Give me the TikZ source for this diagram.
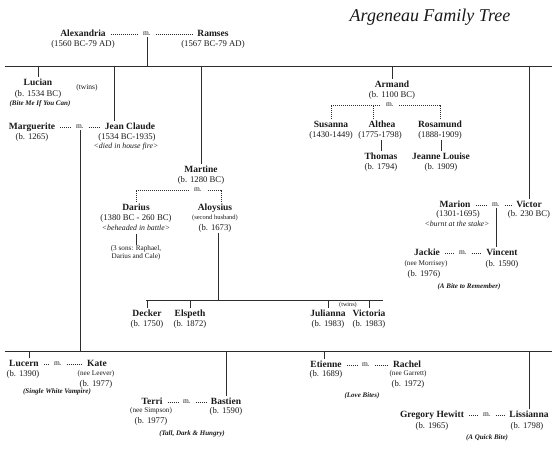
\documentclass[tikz,border=0pt]{standalone}
\usepackage{fontspec}
\setmainfont{Liberation Serif}
\usepackage{tikz}
\usetikzlibrary{positioning, calc}
\definecolor{tinta}{RGB}{25,25,25}
\definecolor{trazo}{RGB}{45,45,45}
\tikzset{
  person/.style={font=\bfseries\fontsize{9.5}{11}\selectfont, text=tinta, inner xsep=1.5pt, inner ysep=1.5pt, text height=6.5pt, text depth=2pt},
  dates/.style={font=\fontsize{8.7}{10}\selectfont, text=tinta, inner sep=0.5pt},
  fate/.style={font=\itshape\fontsize{7.8}{9}\selectfont, text=tinta, inner sep=0.5pt},
  aside/.style={font=\fontsize{6.5}{7.8}\selectfont, text=tinta, inner sep=0.5pt, align=center},
  nee/.style={font=\fontsize{7.2}{8.5}\selectfont, text=tinta, inner sep=0.5pt},
  book/.style={font=\bfseries\itshape\fontsize{7}{8}\selectfont, text=tinta, inner sep=0.5pt},
  wed/.style={font=\fontsize{7.5}{9}\selectfont, text=tinta, inner xsep=1pt, inner ysep=1pt},
  dots/.style={draw=trazo, line width=0.8pt, dash pattern=on 0.9pt off 1.1pt},
  marr/.style={dots, shorten >=3.5pt, shorten <=3.5pt},
  bracket/.style={dots, shorten >=4pt},
  line/.style={draw=trazo, line width=1pt},
}

\begin{document}
\begin{tikzpicture}[x=1pt, y=-1pt]
  \useasboundingbox (0,0) rectangle (560,466);

  % Title
  \node[font=\itshape\fontsize{18}{20}\selectfont, text=tinta] (title) at (430,17) {Argeneau Family Tree};

  % First couple
  \node[person] (alex) at (83,34) {Alexandria};
  \node[dates] (alexd) at (83,44) {(1560 BC-79 AD)};
  \node[wed] (m1) at (147,34) {m.};
  \node[person] (ramses) at (213,34) {Ramses};
  \node[dates] (ramsesd) at (213,44) {(1567 BC-79 AD)};

  % Generation lines
  \coordinate (g1l) at (5,66);   \coordinate (g1r) at (552,66);
  \coordinate (g2l) at (146,300); \coordinate (g2r) at (383,300);
  \coordinate (g3l) at (5,351);  \coordinate (g3r) at (552,351);
  \draw[line] (g1l) -- (g1r);
  \draw[line] (g2l) -- (g2r);
  \draw[line] (g3l) -- (g3r);
  \draw[line] (m1) -- (m1 |- g1l);

  % Lucian
  \node[person] (lucian) at (38,83) {Lucian};
  \node[dates] (luciand) at (38,94) {(b. 1534 BC)};
  \node[book] (lucianb) at (40,104) {(Bite Me If You Can)};
  \node[aside, font=\fontsize{7.5}{9}\selectfont] (twins1) at (87,88) {(twins)};

  % Marguerite and Jean Claude
  \node[person] (marg) at (32,127) {Marguerite};
  \node[dates] (margd) at (32,137) {(b. 1265)};
  \node[wed] (m2) at (80,127) {m.};
  \node[person] (jean) at (130,127) {Jean Claude};
  \node[dates] (jeand) at (127,137) {(1534 BC-1935)};
  \node[fate] (jeann) at (126,147) {<died in house fire>};

  % Martine, Darius and Aloysius
  \node[person] (martine) at (201,170) {Martine};
  \node[dates] (martined) at (201,180) {(b. 1280 BC)};
  \node[wed] (m3) at (198,190) {m.};
  \node[person] (darius) at (136,208) {Darius};
  \node[dates] (dariusd) at (136,218) {(1380 BC - 260 BC)};
  \node[fate] (dariusn) at (136,228) {<beheaded in battle>};
  \node[aside, font=\fontsize{7.2}{8.3}\selectfont] (sons) at (136,253) {(3 sons: Raphael,\\Darius and Cale)};
  \node[person] (aloy) at (215,208) {Aloysius};
  \node[aside] (aloyd1) at (215,218) {(second husband)};
  \node[dates] (aloyd2) at (215,228) {(b. 1673)};

  % Martine's children
  \node[person] (decker) at (147,314) {Decker};
  \node[dates] (deckerd) at (147,324) {(b. 1750)};
  \node[person] (elspeth) at (190,314) {Elspeth};
  \node[dates] (elspethd) at (190,324) {(b. 1872)};
  \node[person] (julianna) at (328,314) {Julianna};
  \node[dates] (juliannad) at (328,324) {(b. 1983)};
  \node[person] (victoria) at (369,314) {Victoria};
  \node[dates] (victoriad) at (369,324) {(b. 1983)};
  \node[aside, font=\fontsize{6.2}{7}\selectfont] (twins2) at (348,305) {(twins)};

  % Armand and his wives
  \node[person] (armand) at (392,85) {Armand};
  \node[dates] (armandd) at (392,95) {(b. 1100 BC)};
  \node[wed] (m4) at (390,105) {m.};
  \node[person] (susanna) at (331,125) {Susanna};
  \node[dates] (susannad) at (331,135) {(1430-1449)};
  \node[person] (althea) at (382,125) {Althea};
  \node[dates] (althead) at (380,135) {(1775-1798)};
  \node[person] (rosamund) at (440,125) {Rosamund};
  \node[dates] (rosamundd) at (440,135) {(1888-1909)};
  \node[person] (thomas) at (381,157) {Thomas};
  \node[dates] (thomasd) at (381,167) {(b. 1794)};
  \node[person] (jeanne) at (441,157) {Jeanne Louise};
  \node[dates] (jeanned) at (441,167) {(b. 1909)};

  % Victor and Marion
  \node[person] (marion) at (455,205) {Marion};
  \node[dates] (mariond) at (458,214) {(1301-1695)};
  \node[fate] (marionn) at (457,224) {<burnt at the stake>};
  \node[wed] (m5) at (496,205) {m.};
  \node[person] (victor) at (529,205) {Victor};
  \node[dates] (victord) at (529,214) {(b. 230 BC)};

  % Vincent and Jackie
  \node[person] (jackie) at (427,253) {Jackie};
  \node[nee] (jackien) at (426,264) {(nee Morrisey)};
  \node[dates] (jackied) at (424,274) {(b. 1976)};
  \node[wed] (m6) at (463,253) {m.};
  \node[person] (vincent) at (502,253) {Vincent};
  \node[dates] (vincentd) at (502,264) {(b. 1590)};
  \node[book] (vincentb) at (469,287) {(A Bite to Remember)};

  % Youngest generation
  \node[person] (lucern) at (24,364) {Lucern};
  \node[dates] (lucernd) at (23,374) {(b. 1390)};
  \node[wed] (m7) at (58,364) {m.};
  \node[person] (kate) at (97,364) {Kate};
  \node[nee] (katen) at (96,374) {(nee Leever)};
  \node[dates] (kated) at (96,384) {(b. 1977)};
  \node[book] (lucernb) at (57,392) {(Single White Vampire)};

  \node[person] (terri) at (152,402) {Terri};
  \node[nee] (terrin) at (151,411) {(nee Simpson)};
  \node[dates] (terrid) at (151,421) {(b. 1977)};
  \node[wed] (m8) at (187,402) {m.};
  \node[person] (bastien) at (226,402) {Bastien};
  \node[dates] (bastiend) at (226,411) {(b. 1590)};
  \node[book] (bastienb) at (192,434) {(Tall, Dark \& Hungry)};

  \node[person] (etienne) at (326,365) {Etienne};
  \node[dates] (etienned) at (326,374) {(b. 1689)};
  \node[wed] (m9) at (366,365) {m.};
  \node[person] (rachel) at (407,365) {Rachel};
  \node[nee] (racheln) at (408,374) {(nee Garrett)};
  \node[dates] (racheld) at (408,384) {(b. 1972)};
  \node[book] (etienneb) at (362,396) {(Love Bites)};

  \node[person] (gregory) at (432,415) {Gregory Hewitt};
  \node[dates] (gregoryd) at (432,426) {(b. 1965)};
  \node[wed] (m10) at (487,415) {m.};
  \node[person] (liss) at (529,415) {Lissianna};
  \node[dates] (lissd) at (527,426) {(b. 1798)};
  \node[book] (lissb) at (487,438) {(A Quick Bite)};

  % Marriages
  \foreach \a/\m/\b in {alex/m1/ramses, marg/m2/jean, marion/m5/victor, jackie/m6/vincent,
                        lucern/m7/kate, terri/m8/bastien, etienne/m9/rachel, gregory/m10/liss}{
    \draw[marr] (\a) -- (\m);
    \draw[marr] (\m) -- (\b);
  }
  \draw[bracket] (susanna) |- (m4);
  \draw[bracket] (rosamund) |- (m4);
  \draw[dots] ([xshift=-9pt]althea.north) -- ([xshift=-9pt]althea.north |- m4);
  \draw[bracket] (darius) |- (m3);
  \draw[bracket] ([xshift=6pt]aloy.north) |- (m3);

  % Descent from the top line
  \foreach \p in {lucian, martine, armand, victor}{
    \draw[line] (\p) -- (\p |- g1l);
  }
  \draw[line] ([xshift=-16pt]jean.north) -- ([xshift=-16pt]jean.north |- g1l);

  % Descent to Martine's children
  \draw[line] ([xshift=3pt]aloyd2.south) -- ([xshift=3pt]aloyd2.south |- g2l);
  \foreach \p in {decker, elspeth, julianna, victoria}{
    \draw[line] (\p) -- (\p |- g2l);
  }

  % Short links
  \draw[line, shorten <=3pt] (dariusn) -- (sons);
  \draw[line] (thomas.north) -- (thomas.north |- althead.south);
  \draw[line] (jeanne.north) -- (jeanne.north |- rosamundd.south);
  \draw[line] (m5) -- (m5 |- vincent.north);

  % Descent to the bottom line
  \draw[line] (m2) -- (m2 |- g3l);
  \draw[line] ([xshift=5pt]lucern.north) -- ([xshift=5pt]lucern.north |- g3l);
  \draw[line] ([xshift=-2pt]etienne.north) -- ([xshift=-2pt]etienne.north |- g3l);
  \foreach \p in {bastien, liss}{
    \draw[line] (\p) -- (\p |- g3l);
  }
\end{tikzpicture}
\end{document}
